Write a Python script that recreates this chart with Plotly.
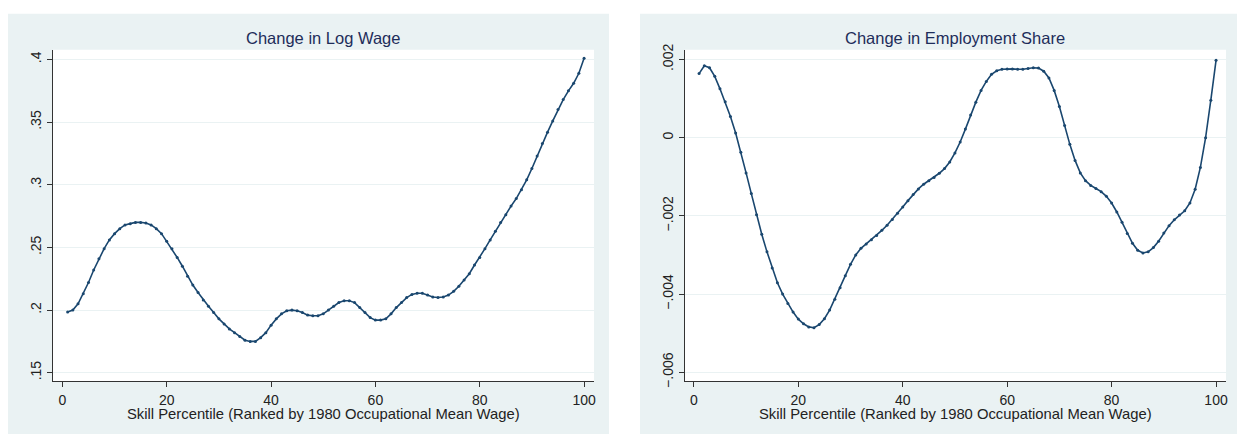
import plotly.graph_objects as go

percentile = list(range(1, 101))

log_wage_change = [
    0.1985, 0.200, 0.205, 0.213, 0.222, 0.232, 0.241, 0.249, 0.256, 0.261,
    0.265, 0.268, 0.269, 0.270, 0.270, 0.2695, 0.268, 0.265, 0.261, 0.255,
    0.249, 0.242, 0.235, 0.227, 0.220, 0.214, 0.208, 0.203, 0.198, 0.193,
    0.189, 0.185, 0.182, 0.179, 0.176, 0.175, 0.175, 0.178, 0.182, 0.188,
    0.193, 0.197, 0.1995, 0.200, 0.1995, 0.198, 0.196, 0.1955, 0.1955, 0.197,
    0.200, 0.203, 0.206, 0.2075, 0.2075, 0.206, 0.202, 0.198, 0.194, 0.192,
    0.192, 0.193, 0.197, 0.202, 0.206, 0.210, 0.2125, 0.2135, 0.2135, 0.212,
    0.2105, 0.210, 0.2105, 0.212, 0.215, 0.219, 0.224, 0.229, 0.236, 0.242,
    0.249, 0.256, 0.263, 0.270, 0.276, 0.283, 0.289, 0.296, 0.304, 0.313,
    0.323, 0.333, 0.342, 0.351, 0.360, 0.368, 0.375, 0.381, 0.389, 0.401,
]

emp_share_change = [
    0.00164, 0.00184, 0.00179, 0.00157, 0.00125, 0.00092, 0.00054, 0.00012, -0.00037, -0.00090,
    -0.00143, -0.00197, -0.00247, -0.00292, -0.00333, -0.00371, -0.00400, -0.00424, -0.00446, -0.00464,
    -0.00476, -0.00484, -0.00486, -0.00478, -0.00463, -0.00441, -0.00413, -0.00384, -0.00353, -0.00324,
    -0.00300, -0.00283, -0.00272, -0.00261, -0.00250, -0.00237, -0.00224, -0.00209, -0.00193, -0.00177,
    -0.00161, -0.00145, -0.00131, -0.00119, -0.00110, -0.00102, -0.00091, -0.00079, -0.00062, -0.00039,
    -0.00011, 0.00022, 0.00058, 0.00091, 0.00121, 0.00144, 0.00162, 0.00171, 0.00175, 0.00176,
    0.00176, 0.00175, 0.00175, 0.00177, 0.00179, 0.00178, 0.00170, 0.00153, 0.00121, 0.00080,
    0.00031, -0.00017, -0.00058, -0.00090, -0.00110, -0.00122, -0.00130, -0.00138, -0.00150, -0.00167,
    -0.00190, -0.00216, -0.00245, -0.00270, -0.00288, -0.00295, -0.00292, -0.00281, -0.00265, -0.00244,
    -0.00225, -0.00210, -0.00198, -0.00187, -0.00167, -0.00132, -0.00076, 0.00000, 0.00096, 0.00198,
]

x_ticks = [0, 20, 40, 60, 80, 100]
wage_ticks = [0.15, 0.2, 0.25, 0.3, 0.35, 0.4]
wage_tick_labels = [".15", ".2", ".25", ".3", ".35", ".4"]
emp_ticks = [-0.006, -0.004, -0.002, 0.0, 0.002]
emp_tick_labels = ["\u2212.006", "\u2212.004", "\u2212.002", "0", ".002"]

titles = ["Change in Log Wage", "Change in Employment Share"]
x_title = "Skill Percentile (Ranked by 1980 Occupational Mean Wage)"

W, H = 1239, 441
NAVY = "#1a476f"
PANEL = "#eaf2f3"
GRID = "#eaf2f3"
FONT = "Liberation Sans, Arial, sans-serif"


def fx(px):
    return px / W


def fy(py):
    return 1 - py / H


fig = go.Figure()

fig.add_trace(go.Scatter(
    x=percentile, y=log_wage_change, mode="lines+markers",
    line=dict(color=NAVY, width=1.6), marker=dict(color=NAVY, size=3),
    xaxis="x", yaxis="y", showlegend=False,
))
fig.add_trace(go.Scatter(
    x=percentile, y=emp_share_change, mode="lines+markers",
    line=dict(color=NAVY, width=1.6), marker=dict(color=NAVY, size=3),
    xaxis="x2", yaxis="y2", showlegend=False,
))

tickfont = dict(family=FONT, size=14, color="#222222")
common_x = dict(
    tickmode="array", tickvals=x_ticks, ticks="outside", ticklen=5, tickwidth=1,
    tickcolor="#333333", showline=True, linecolor="#333333", linewidth=1,
    showgrid=False, zeroline=False, tickfont=tickfont, ticklabelstandoff=1,
)
common_y = dict(
    tickmode="array", ticks="outside", ticklen=5, tickwidth=1, tickcolor="#333333",
    showline=True, linecolor="#333333", linewidth=1, showgrid=True, gridcolor=GRID,
    gridwidth=1, zeroline=False, tickangle=-90, tickfont=tickfont,
)

yd = [fy(386), fy(45)]

fig.update_layout(
    width=W, height=H,
    margin=dict(l=0, r=0, t=0, b=0),
    paper_bgcolor="white", plot_bgcolor="white",
    xaxis=dict(domain=[fx(53), fx(595)], range=[-1.82, 101.91], anchor="y", **common_x),
    yaxis=dict(domain=yd, range=[0.14301, 0.40776], anchor="x",
               tickvals=wage_ticks, ticktext=wage_tick_labels, **common_y),
    xaxis2=dict(domain=[fx(686), fx(1228)], range=[-1.72, 101.91], anchor="y2", **common_x),
    yaxis2=dict(domain=yd, range=[-0.006236, 0.002249], anchor="x2",
                tickvals=emp_ticks, ticktext=emp_tick_labels, **common_y),
    shapes=[
        dict(type="rect", xref="paper", yref="paper", x0=fx(8), x1=fx(610), y0=fy(440), y1=fy(8),
             fillcolor=PANEL, line=dict(width=0), layer="below"),
        dict(type="rect", xref="paper", yref="paper", x0=fx(641), x1=fx(1239), y0=fy(440), y1=fy(8),
             fillcolor=PANEL, line=dict(width=0), layer="below"),
        dict(type="rect", xref="paper", yref="paper", x0=fx(53), x1=fx(595), y0=fy(386), y1=fy(45),
             fillcolor="white", line=dict(width=0), layer="below"),
        dict(type="rect", xref="paper", yref="paper", x0=fx(686), x1=fx(1228), y0=fy(386), y1=fy(45),
             fillcolor="white", line=dict(width=0), layer="below"),
    ],
    annotations=[
        dict(text=titles[0], xref="paper", yref="paper", x=fx(324), y=fy(33), showarrow=False,
             font=dict(family=FONT, size=16.5, color="#1e2d5a"), xanchor="center", yanchor="middle"),
        dict(text=titles[1], xref="paper", yref="paper", x=fx(957), y=fy(33), showarrow=False,
             font=dict(family=FONT, size=16.5, color="#1e2d5a"), xanchor="center", yanchor="middle"),
        dict(text=x_title, xref="paper", yref="paper", x=fx(324), y=fy(419), showarrow=False,
             font=dict(family=FONT, size=14.8, color="#222222"), xanchor="center", yanchor="middle"),
        dict(text=x_title, xref="paper", yref="paper", x=fx(957), y=fy(419), showarrow=False,
             font=dict(family=FONT, size=14.8, color="#222222"), xanchor="center", yanchor="middle"),
    ],
)

fig.write_html("out.html", post_script="document.body.style.margin='0px';",
               config={"displayModeBar": False})
